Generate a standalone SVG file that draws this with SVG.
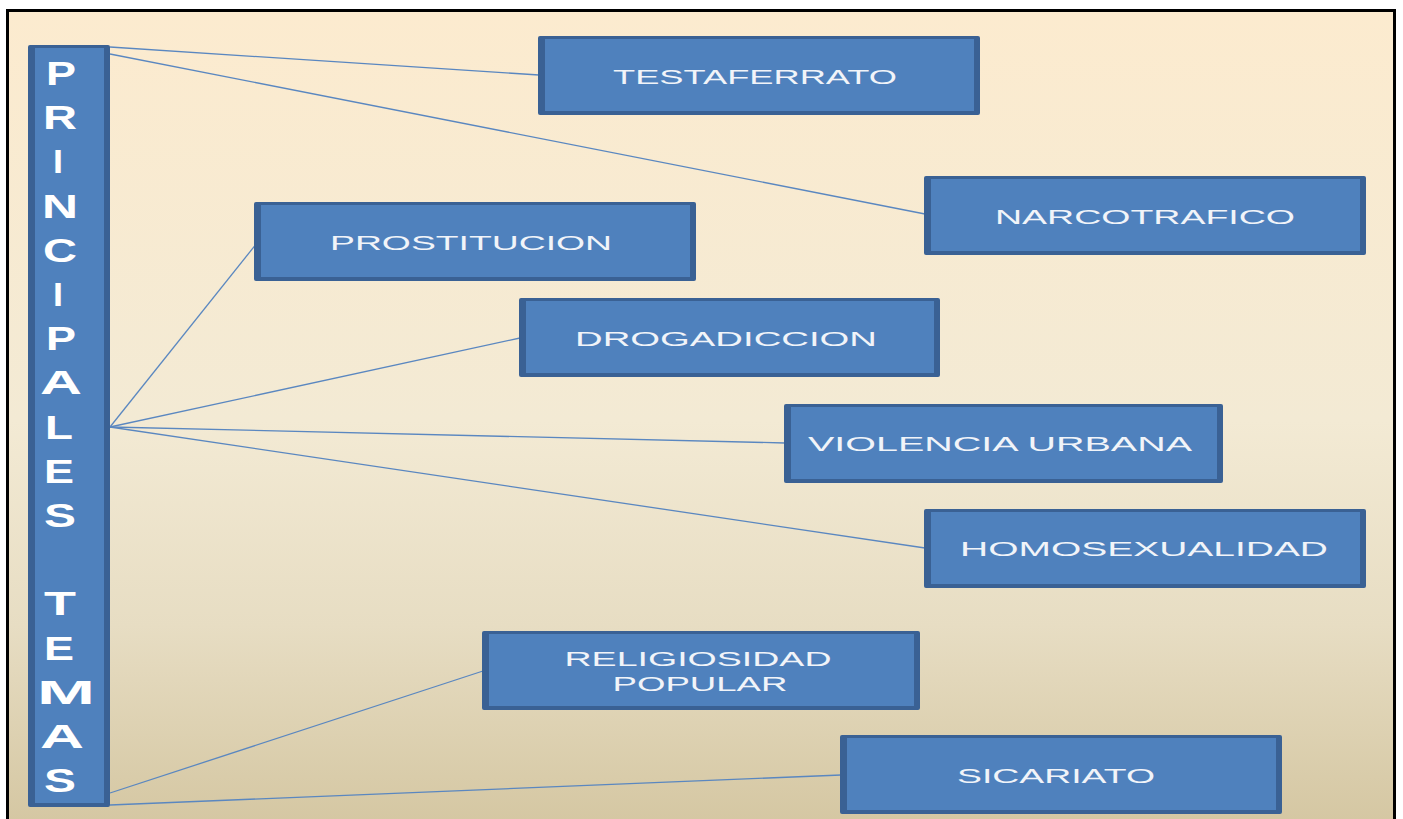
<svg xmlns="http://www.w3.org/2000/svg" width="1403" height="819" viewBox="0 0 1403 819">
<defs>
<linearGradient id="bg" x1="0" y1="0" x2="0" y2="1">
<stop offset="0" stop-color="#FCEBCF"/>
<stop offset="0.5" stop-color="#F3EAD4"/>
<stop offset="0.75" stop-color="#E7DDC3"/>
<stop offset="1" stop-color="#D4C6A1"/>
</linearGradient>
<style>
.edge{fill:#3A6194}
.face{fill:#4F81BD}
.lbl{font-family:"Liberation Sans",Arial,sans-serif;font-size:21px;fill:#F1F4F9;text-anchor:middle}
.big{font-family:"Liberation Sans",Arial,sans-serif;font-weight:bold;font-size:33px;fill:#FFFFFF;text-anchor:middle}
.con{stroke:#5A87C0;stroke-width:1.3;fill:none}
</style>
</defs>
<rect x="0" y="0" width="1403" height="819" fill="#FFFFFF"/>
<rect x="7.5" y="10.5" width="1387" height="820" fill="url(#bg)" stroke="#000000" stroke-width="3"/>

<g id="connectors">
<line class="con" x1="110" y1="47" x2="539" y2="75"/>
<line class="con" x1="110" y1="54" x2="925" y2="214"/>
<line class="con" x1="110" y1="427" x2="257" y2="243"/>
<line class="con" x1="110" y1="427" x2="520" y2="338"/>
<line class="con" x1="110" y1="427" x2="785" y2="443"/>
<line class="con" x1="110" y1="427" x2="925" y2="548"/>
<line class="con" x1="110" y1="793" x2="483" y2="671"/>
<line class="con" x1="110" y1="805" x2="841" y2="775"/>
</g>

<g id="principales-temas">
<rect class="edge" x="28" y="45" width="82" height="762" rx="2"/>
<rect class="face" x="35" y="48" width="69" height="755"/>
<text class="big" x="61" y="85" textLength="30" lengthAdjust="spacingAndGlyphs">P</text>
<text class="big" x="60" y="129" textLength="34" lengthAdjust="spacingAndGlyphs">R</text>
<text class="big" x="58" y="173" textLength="10" lengthAdjust="spacingAndGlyphs">I</text>
<text class="big" x="60" y="218" textLength="36" lengthAdjust="spacingAndGlyphs">N</text>
<text class="big" x="60" y="262" textLength="34" lengthAdjust="spacingAndGlyphs">C</text>
<text class="big" x="58" y="306" textLength="10" lengthAdjust="spacingAndGlyphs">I</text>
<text class="big" x="61" y="350" textLength="30" lengthAdjust="spacingAndGlyphs">P</text>
<text class="big" x="61" y="394" textLength="42" lengthAdjust="spacingAndGlyphs">A</text>
<text class="big" x="59" y="439" textLength="28" lengthAdjust="spacingAndGlyphs">L</text>
<text class="big" x="59" y="483" textLength="30" lengthAdjust="spacingAndGlyphs">E</text>
<text class="big" x="60" y="527" textLength="32" lengthAdjust="spacingAndGlyphs">S</text>
<text class="big" x="60" y="615" textLength="32" lengthAdjust="spacingAndGlyphs">T</text>
<text class="big" x="59" y="660" textLength="30" lengthAdjust="spacingAndGlyphs">E</text>
<text class="big" x="66" y="704" textLength="58" lengthAdjust="spacingAndGlyphs">M</text>
<text class="big" x="62" y="748" textLength="44" lengthAdjust="spacingAndGlyphs">A</text>
<text class="big" x="60" y="792" textLength="32" lengthAdjust="spacingAndGlyphs">S</text>
</g>

<g id="testaferrato">
<rect class="edge" x="538" y="36" width="442" height="79" rx="2"/>
<rect class="face" x="545" y="39" width="429" height="72"/>
<text class="lbl" x="755" y="84" textLength="284" lengthAdjust="spacingAndGlyphs">TESTAFERRATO</text>
</g>

<g id="narcotrafico">
<rect class="edge" x="924" y="176" width="442" height="79" rx="2"/>
<rect class="face" x="931" y="179" width="429" height="72"/>
<text class="lbl" x="1145" y="224" textLength="300" lengthAdjust="spacingAndGlyphs">NARCOTRAFICO</text>
</g>

<g id="prostitucion">
<rect class="edge" x="254" y="202" width="442" height="79" rx="2"/>
<rect class="face" x="261" y="205" width="429" height="72"/>
<text class="lbl" x="471" y="250" textLength="282" lengthAdjust="spacingAndGlyphs">PROSTITUCION</text>
</g>

<g id="drogadiccion">
<rect class="edge" x="519" y="298" width="421" height="79" rx="2"/>
<rect class="face" x="526" y="301" width="408" height="72"/>
<text class="lbl" x="726" y="346" textLength="302" lengthAdjust="spacingAndGlyphs">DROGADICCION</text>
</g>

<g id="violencia-urbana">
<rect class="edge" x="784" y="404" width="439" height="79" rx="2"/>
<rect class="face" x="791" y="407" width="426" height="72"/>
<text class="lbl" x="1000" y="451" textLength="384" lengthAdjust="spacingAndGlyphs">VIOLENCIA URBANA</text>
</g>

<g id="homosexualidad">
<rect class="edge" x="924" y="509" width="442" height="79" rx="2"/>
<rect class="face" x="931" y="512" width="429" height="72"/>
<text class="lbl" x="1144" y="556" textLength="368" lengthAdjust="spacingAndGlyphs">HOMOSEXUALIDAD</text>
</g>

<g id="religiosidad-popular">
<rect class="edge" x="482" y="631" width="438" height="79" rx="2"/>
<rect class="face" x="489" y="634" width="425" height="72"/>
<text class="lbl" x="698" y="666" textLength="267" lengthAdjust="spacingAndGlyphs">RELIGIOSIDAD</text>
<text class="lbl" x="700" y="691" textLength="175" lengthAdjust="spacingAndGlyphs">POPULAR</text>
</g>

<g id="sicariato">
<rect class="edge" x="840" y="735" width="442" height="79" rx="2"/>
<rect class="face" x="847" y="738" width="429" height="72"/>
<text class="lbl" x="1056" y="783" textLength="198" lengthAdjust="spacingAndGlyphs">SICARIATO</text>
</g>
</svg>
